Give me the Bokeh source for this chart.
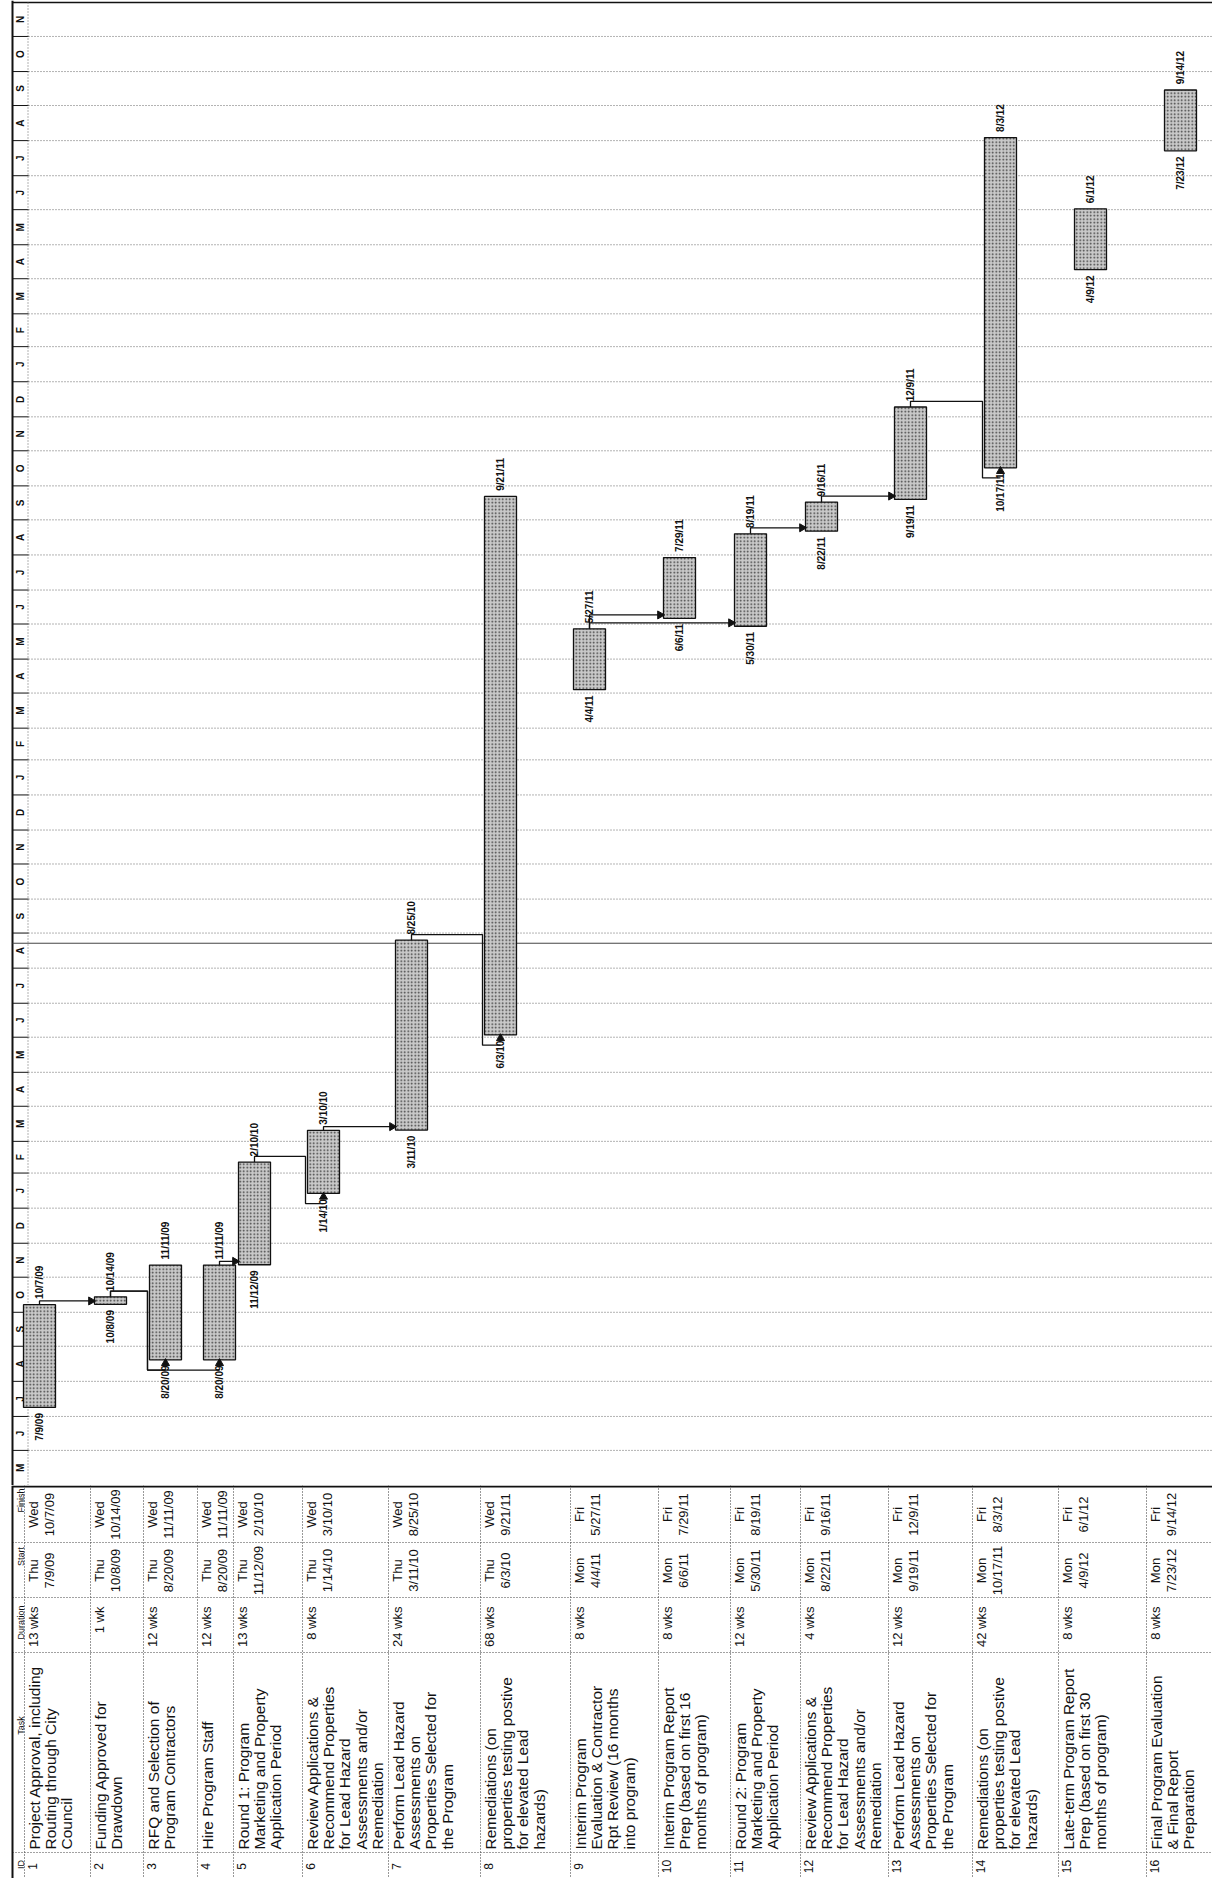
import numpy as np
import pandas as pd
from math import pi
from bokeh.plotting import figure
from bokeh.layouts import column
from bokeh.models import Range1d, ColumnDataSource
from bokeh.embed import file_html
from bokeh.resources import INLINE
from bokeh.core.properties import value

# ---------------- data ----------------
TASK_IDS = list(range(1, 17))
TASK_NAMES = [
    "Project Approval, including\nRouting through City\nCouncil",
    "Funding Approved for\nDrawdown",
    "RFQ and Selection of\nProgram Contractors",
    "Hire Program Staff",
    "Round 1:  Program\nMarketing and Property\nApplication Period",
    "Review Applications &\nRecommend Properties\nfor Lead Hazard\nAssessments and/or\nRemediation",
    "Perform Lead Hazard\nAssessments on\nProperties Selected for\nthe Program",
    "Remediations (on\nproperties testing postive\nfor elevated Lead\nhazards)",
    "Interim Program\nEvaluation & Contractor\nRpt Review (16 months\ninto program)",
    "Interim Program Report\nPrep (based on first 16\nmonths of program)",
    "Round 2:  Program\nMarketing and Property\nApplication Period",
    "Review Applications &\nRecommend Properties\nfor Lead Hazard\nAssessments and/or\nRemediation",
    "Perform Lead Hazard\nAssessments on\nProperties Selected for\nthe Program",
    "Remediations (on\nproperties testing postive\nfor elevated Lead\nhazards)",
    "Late-term Program Report\nPrep (based on first 30\nmonths of program)",
    "Final Program Evaluation\n& Final Report\nPreparation",
]
DURATIONS = ["13 wks", "1 wk", "12 wks", "12 wks", "13 wks", "8 wks", "24 wks", "68 wks",
             "8 wks", "8 wks", "12 wks", "4 wks", "12 wks", "42 wks", "8 wks", "8 wks"]
STARTS = ["2009-07-09", "2009-10-08", "2009-08-20", "2009-08-20", "2009-11-12", "2010-01-14",
          "2010-03-11", "2010-06-03", "2011-04-04", "2011-06-06", "2011-05-30", "2011-08-22",
          "2011-09-19", "2011-10-17", "2012-04-09", "2012-07-23"]
FINISHES = ["2009-10-07", "2009-10-14", "2009-11-11", "2009-11-11", "2010-02-10", "2010-03-10",
            "2010-08-25", "2011-09-21", "2011-05-27", "2011-07-29", "2011-08-19", "2011-09-16",
            "2011-12-09", "2012-08-03", "2012-06-01", "2012-09-14"]
LINKS = [(1, 2), (2, 3), (2, 4), (4, 5), (5, 6), (6, 7), (7, 8),
         (9, 10), (9, 11), (11, 12), (12, 13), (13, 14)]
MONTH_LETTERS = ["J", "F", "M", "A", "M", "J", "J", "A", "S", "O", "N", "D"]
TIME_FROM, TIME_TO = "2009-05-01", "2012-12-01"
PAGE_BREAK = "2010-08-23"
HEADERS = ["Finish", "Start", "Duration", "Task", "ID"]

# ---------------- layout (page pixels) ----------------
W, H_CHART, H_TABLE = 1212, 1485, 393
ROW_EDGES = [24, 90, 143, 197, 233, 302, 388, 480, 570, 658, 730, 800, 888, 972, 1058, 1146, 1225]
LANE_X = [23, 94, 149, 203, 238, 307, 395, 484, 573, 663, 734, 805, 894, 984, 1074, 1164]
BAR_W = 32
FONT = value("Liberation Sans")
INK = "#111111"


def ms(t):
    t = pd.to_datetime(t)
    return (t - pd.Timestamp("1970-01-01")) / pd.Timedelta(milliseconds=1)


def day(n):
    return n * 86400000.0


def short(t):
    t = pd.Timestamp(t)
    return f"{t.month}/{t.day}/{t.year % 100:02d}"


starts = [pd.Timestamp(s) for s in STARTS]
finishes = [pd.Timestamp(f) for f in FINISHES]
t0 = ms(TIME_FROM)
t_full_end = ms(TIME_TO)
px_day = (1485 - 2) / ((t_full_end - t0) / day(1))
t_top = t_full_end + day(2 / px_day)

# ---------------- chart ----------------
p = figure(width=W, height=H_CHART, x_range=Range1d(0, W), y_range=Range1d(t0, t_top),
           output_backend="svg", toolbar_location=None, min_border=0,
           x_axis_location=None, y_axis_location=None)
p.grid.visible = False
p.outline_line_color = None
p.background_fill_color = "white"

months = pd.date_range(TIME_FROM, TIME_TO, freq="MS")
mstart = ms(months)
p.segment(x0=28, x1=1225, y0=mstart[:-1], y1=mstart[:-1], line_color="#666666", line_width=1,
          line_dash="1 2")
p.segment(x0=12, x1=28, y0=mstart, y1=mstart, line_color=INK, line_width=1)
p.segment(x0=12, x1=1225, y0=mstart[-1], y1=mstart[-1], line_color=INK, line_width=1.5)
mids = [(a + b) / 2 for a, b in zip(mstart[:-1], mstart[1:])]
letters = [MONTH_LETTERS[m.month - 1] for m in months[:-1]]
p.text(x=20, y=mids, text=letters, angle=pi / 2, text_align="center", text_baseline="middle",
       text_font=FONT, text_font_size="10px", text_font_style="bold", text_color=INK)
p.segment(x0=27.5, x1=27.5, y0=t0, y1=mstart[-1], line_color="#666666", line_dash="1 2")
p.segment(x0=12, x1=12, y0=t0, y1=t_top, line_color=INK, line_width=2)
# page break line of the print
p.segment(x0=12, x1=1225, y0=ms(PAGE_BREAK), y1=ms(PAGE_BREAK), line_color="#444444", line_width=1)

bottoms = [ms(s) for s in starts]
tops = [ms(f) + day(0.7) for f in finishes]
lefts = LANE_X
rights = [x + BAR_W for x in LANE_X]
cx = [x + BAR_W / 2 for x in LANE_X]
bars = ColumnDataSource(dict(left=lefts, right=rights, bottom=bottoms, top=tops))
p.quad(left="left", right="right", bottom="bottom", top="top", source=bars,
       fill_color="#c9c9c9", line_color=INK, line_width=1.3,
       hatch_pattern="dot", hatch_color="#3a3a3a", hatch_scale=3.5, hatch_weight=1.0)

# dependency links
xs, ys, ax_r, ay_r, ax_u, ay_u = [], [], [], [], [], []
for a, b in LINKS:
    i, j = a - 1, b - 1
    if starts[j] > finishes[i]:
        yl = bottoms[j] + day(3)
        xs.append([cx[i], cx[i], lefts[j] - 4])
        ys.append([tops[i], yl, yl])
        ax_r.append(lefts[j] - 3.5)
        ay_r.append(yl)
    else:
        yh = tops[i] + day(5)
        yb = bottoms[j] - day(9)
        xv = lefts[i + 1] - 2
        xs.append([cx[i], cx[i], xv, xv, cx[j]])
        ys.append([tops[i], yh, yh, yb, yb])
        ax_u.append(cx[j])
        ay_u.append(bottoms[j] - day(3))
p.multi_line(xs=xs, ys=ys, line_color=INK, line_width=1.3)
p.scatter(x=ax_r, y=ay_r, marker="triangle", size=8, angle=-pi / 2,
          fill_color=INK, line_color=INK)
p.scatter(x=ax_u, y=ay_u, marker="triangle", size=8, fill_color=INK, line_color=INK)

# bar date labels
p.text(x=cx, y=[t + day(5) for t in tops], text=[short(f) for f in finishes], angle=pi / 2,
       text_align="left", text_baseline="middle", text_font=FONT, text_font_size="10px",
       text_font_style="bold", text_color=INK)
p.text(x=cx, y=[b - day(5) for b in bottoms], text=[short(s) for s in starts], angle=pi / 2,
       text_align="right", text_baseline="middle", text_font=FONT, text_font_size="10px",
       text_font_style="bold", text_color=INK)

# ---------------- table ----------------
t = figure(width=W, height=H_TABLE, x_range=p.x_range, y_range=Range1d(1878, 1485),
           output_backend="svg", toolbar_location=None, min_border=0,
           x_axis_location=None, y_axis_location=None)
t.grid.visible = False
t.outline_line_color = None
t.background_fill_color = "white"

COL_EDGES = [1485, 1542, 1597, 1652, 1852, 1878]
t.segment(x0=ROW_EDGES, x1=ROW_EDGES, y0=1485, y1=1878, line_color="#333333", line_dash="1 2")
t.segment(x0=12, x1=1225, y0=COL_EDGES[1:5], y1=COL_EDGES[1:5], line_color="#444444", line_dash="1 2")
t.segment(x0=12, x1=1225, y0=1486, y1=1486, line_color=INK, line_width=2)
t.segment(x0=12, x1=12, y0=1485, y1=1878, line_color=INK, line_width=2)

hdr_y = [1500, 1556, 1622, 1725, 1864]
t.text(x=15, y=hdr_y, text=HEADERS, angle=pi / 2, text_align="center", text_baseline="top",
       text_font=FONT, text_font_size="9px", text_color=INK)

row_x = [e + 1 for e in ROW_EDGES[:-1]]
t.text(x=row_x, y=1849, text=TASK_NAMES, angle=pi / 2, text_align="left", text_baseline="top",
       text_font=FONT, text_font_size="15.5px", text_line_height=0.97, text_color=INK)
t.text(x=row_x, y=1606, text=DURATIONS, angle=pi / 2, text_align="right", text_baseline="top",
       text_font=FONT, text_font_size="13px", text_color=INK)
t.text(x=row_x, y=1570, text=[f"{s.strftime('%a')}\n{short(s)}" for s in starts], angle=pi / 2,
       text_align="center", text_baseline="top", text_font=FONT, text_font_size="13px",
       text_line_height=1.1, text_color=INK)
t.text(x=row_x, y=1514, text=[f"{f.strftime('%a')}\n{short(f)}" for f in finishes], angle=pi / 2,
       text_align="center", text_baseline="top", text_font=FONT, text_font_size="13px",
       text_line_height=1.1, text_color=INK)
t.text(x=[e + 3 for e in ROW_EDGES[:-1]], y=1866, text=[str(i) for i in TASK_IDS], angle=pi / 2,
       text_align="center", text_baseline="top", text_font=FONT, text_font_size="12px",
       text_color=INK)

layout = column(p, t, spacing=0)
open("out.html", "w").write(file_html(layout, INLINE))
